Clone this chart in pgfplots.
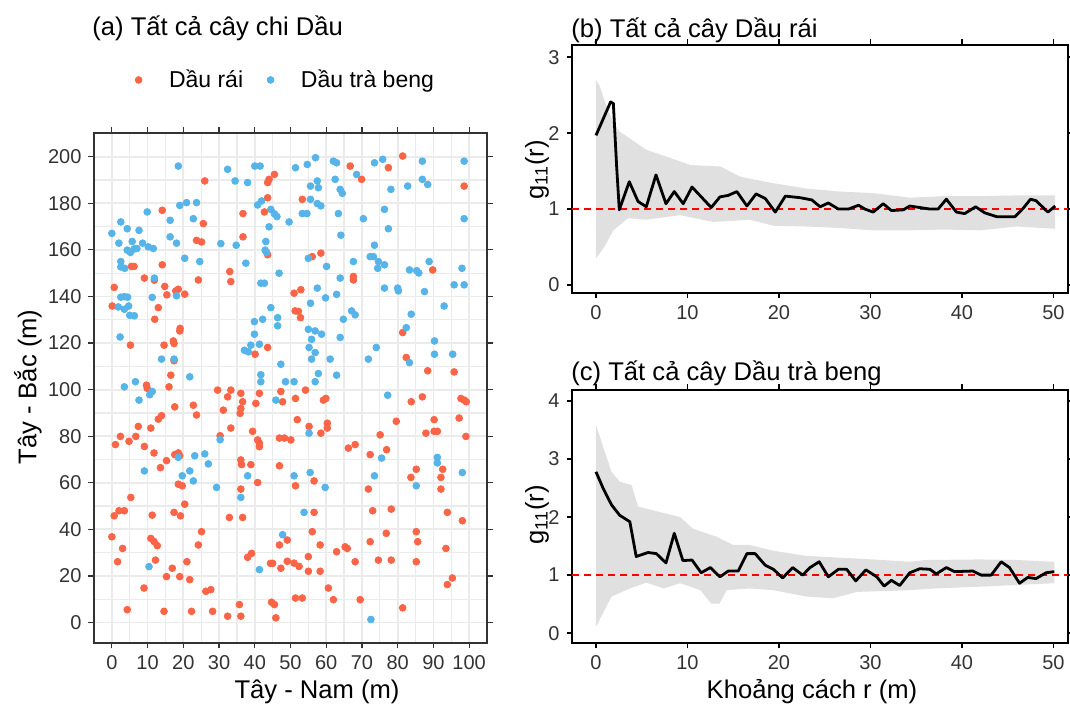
\documentclass[border=0pt]{standalone}
\usepackage{fontspec}
\setmainfont{Liberation Sans}
\usepackage{pgfplots}
\pgfplotsset{compat=1.18}
\definecolor{rai}{HTML}{FA6548}
\definecolor{trabeng}{HTML}{56B4E9}
\definecolor{envgray}{HTML}{E0E0E0}
\definecolor{gridgray}{HTML}{EBEBEB}

\pgfplotsset{
  base/.style={scale only axis, anchor=south west,
    tick align=outside, major tick length=2.75pt,
    tick label style={font=\fontsize{10}{12}\selectfont, text=black!80},
    /pgf/number format/assume math mode=true},
  gline/.style={base, xmin=-2.62, xmax=51.6, xtick={0,10,...,50},
    axis line style={black, line width=0.8pt}, tick style={black, line width=0.8pt},
    clip=true},
}

\begin{document}
\begin{tikzpicture}
\useasboundingbox (0,0) rectangle (535pt,355.5pt);

% (a) scatter
\begin{axis}[base, at={(47pt,34pt)}, width=196.5pt, height=255pt,
  xmin=-5, xmax=105, ymin=-8.8, ymax=210.2,
  xtick={0,10,...,100}, ytick={0,20,...,200},
  minor xtick={5,15,...,95}, minor ytick={10,30,...,190},
  minor tick length=0pt, grid=both,
  major grid style={gridgray, line width=0.9pt},
  minor grid style={gridgray, line width=0.6pt},
  axis line style={black!80, line width=0.6pt}, tick style={black!80, line width=0.6pt},
  legend columns=2,
  legend style={at={(0.49,1.104)}, anchor=center, draw=none, fill=none,
    font=\fontsize{11.5}{13}\selectfont,
    /tikz/every odd column/.append style={column sep=11.5pt},
    /tikz/every even column/.append style={column sep=10pt}},
  legend cell align=left]
\addplot[only marks, mark=*, mark size=1.7pt, color=rai] coordinates {
(45.5,192.4)(44.0,190.3)(43.6,188.9)(26.0,189.6)(43.6,182.4)(14.1,177)(36.7,175.6)(42.7,176.3)(25.6,171.3)(36.7,165.6)(23.7,164.1)(25.1,163.4)(43.6,157.9)(5.5,152.9)(6.2,152.9)(14.1,153.6)(33.0,150.7)(9.1,147.9)(11.9,147.0)(24.2,147.1)(33.3,146.4)(0.65,143.9)(14.8,144.3)(18.6,143.1)(17.9,142.4)(15.4,140.7)(20.4,141.0)
(81.4,200.3)(66.7,196)(77.4,195.3)(69.9,190.3)(98.6,187.4)(53.3,181.7)(56.1,157.1)(58.5,158.6)(89.8,151.4)(67.6,148.6)(67.6,147.1)(51.0,141.4)(52.9,142.9)
(0.1,135.9)(13.0,135.2)(12.0,130.2)(19.1,126.3)(19.0,125.2)(5.2,119.1)(14.6,119.1)(17.2,120.9)(17.4,119.8)(17.4,112.4)(40.1,115.2)(43.6,118.1)(16.5,106.2)(9.7,101.9)(9.9,100.6)(16.0,101.2)(29.6,99.8)(33.3,99.8)(32.4,96.9)(36.1,98.4)(36.6,94.8)(41.3,98.4)(40.3,94.1)(47.3,99.2)(47.8,94.8)(17.6,92.6)(22.8,93.3)(23.7,89.1)(31.2,91.2)(36.1,91.9)(35.9,89.8)(13.9,88.8)(13.0,87.3)(7.4,84.2)(10.9,83.5)(33.3,83.5)(39.4,82.1)(2.4,79.9)(6.7,79.9)(1.0,76.4)(4.8,77.8)(9.1,75.6)(30.3,80.2)(40.8,78.4)(41.3,77.0)(41.3,75.5)(46.9,79.2)(48.3,79.2)(11.8,72.8)(17.6,72.1)(18.6,72.8)(19.0,71.6)(15.3,69.5)(36.1,69.8)(36.3,67.8)(38.9,67.8)
(51.3,133.8)(52.2,133.6)(52.8,130.9)(81.4,124.5)(82.4,113.8)(88.4,108.1)(95.8,107.6)(54.2,99.8)(51.4,96.2)(59.2,95.5)(59.9,96.2)(83.8,94.8)(86.9,96.9)(97.7,96.2)(98.6,95.5)(99.2,94.8)(51.9,87.1)(55.2,84.2)(60.3,85.6)(60.3,83.5)(58.5,81.3)(79.6,86.4)(90.2,87.1)(97.2,87.8)(75.1,80.6)(87.9,81.3)(90.2,82.1)(91.1,82.1)(99.1,79.9)(50.1,78.4)(66.2,74.9)(68.1,76.4)(72.3,72.1)(76.9,74.2)
(13.6,66.5)(46.9,67.3)(40.8,60.1)(18.6,59.4)(19.7,58.7)(36.1,57.3)(5.3,53.7)(20.4,50.8)(0.65,45.8)(2.0,48)(3.5,48)(11.3,46.1)(17.4,47.3)(19.2,45.8)(32.9,45.1)(36.6,45.1)(25.1,39)(0,36.8)(10.9,36.1)(11.8,34.8)(12.7,33)(24.2,33.3)(3.0,31.8)(49.1,35.4)(46.9,33.3)(38.0,28)(39.1,29.7)(1.6,26.1)(12.2,26.8)(21.0,26.1)(16.9,23.3)(15.3,19.7)(19.0,19.7)(21.8,18.4)(44.4,25.4)(45.0,25.4)(49.1,26.3)(47.3,23.3)(9.0,14.8)(26.3,13.4)(27.7,14.1)(4.3,5.5)(14.6,4.8)(22.3,4.8)(28.2,4.8)(35.7,7.7)(32.4,2.7)(36.1,2.7)(44.7,8.7)(45.5,7.7)(45.9,2)
(85.2,65.8)(92.6,65.8)(56.6,60.8)(51.4,58.7)(83.7,62.3)(92.1,62.3)(92.1,57.3)(71.8,57.3)(56.6,47.3)(73.0,48)(78.2,48.7)(93.9,47.3)(98.1,43.7)(56.1,39)(76.8,38.3)(85.2,39)(72.3,34.7)(85.6,34.7)(58.3,33.3)(65.3,32.5)(65.9,31.8)(62.9,30.4)(93.5,31.8)(55.0,28.3)(51.0,25.5)(52.4,24.1)(55.0,22)(58.3,22)(68.1,26.1)(74.6,26.8)(78.2,26.8)(85.2,26.1)(95.3,19.1)(93.9,16.3)(60.6,14.8)(51.4,10.5)(53.3,10.5)(62.0,9.8)(69.5,9.8)(81.4,6.3)
};
\addlegendentry{Dầu rái}
\addplot[only marks, mark=*, mark size=1.7pt, color=trabeng] coordinates {
(18.6,196)(32.4,194.6)(40,196)(41.5,196)(34.5,189.6)(38,188.9)(41.9,181)(40.8,179.3)(20.9,180.3)(23.7,180.3)(19.0,179.1)(9.9,176.3)(44.5,177.4)(45.5,175.5)(46.2,174.3)(49.6,172)(16.3,172.7)(22.8,173.4)(2.5,172)(4.3,169.1)(7.6,168.4)(44.0,169.9)(0,167.1)(16.3,165.6)(1.96,162.9)(5.7,163.6)(8.6,162.9)(18.1,162.9)(30.5,162.7)(34.8,162)(43.1,163.6)(4.3,159.9)(5.2,158.9)(6.2,160.4)(7.0,160.6)(10.2,161.3)(11.6,160.6)(42.9,159.9)(43.3,158.9)(20.4,156.4)(24.6,155)(2.5,155)(2.5,152.7)(3.6,152.1)(37.5,154.3)(46.8,150)(11.9,147.9)(41.7,145.7)(42.7,145.7)(18.1,140.3)(11.3,139.6)(2.5,139.7)(3.5,139.9)(4.4,139.7)
(57.0,199.6)(51.4,195.3)(54.7,196.7)(62.0,198.1)(62.9,197.4)(73.5,197.4)(75.8,198.9)(86.9,198.1)(98.6,198.1)(68.5,192.4)(62.5,190.3)(57.5,189.6)(55.6,187.4)(57.8,186.7)(86.9,190.3)(88.4,188.1)(82.8,187.4)(78.1,186)(63.9,186)(64.5,184.3)(55.6,181.7)(57.5,179.9)(58.5,178.9)(76.3,177.4)(53.3,175.6)(54.6,175.6)(63.4,175.6)(70.4,173.4)(98.6,173.4)(77.4,169.1)(64.1,166.3)(73.5,162)(55.0,156.4)(72.3,157.1)(73.2,157.1)(74.6,155)(67.6,155)(60.1,152.9)(76.3,153.6)(74.4,152.1)(88.8,155)(83.3,151.4)(85.3,151.1)(85.9,150.1)(98.0,152.1)(63.9,147.9)(57.5,143.6)(76.3,143.6)(80.0,143.6)(80.2,142.4)(87.5,142.1)(95.8,145)(98.6,145)(59.8,139.4)(62.9,140.9)(55.6,137.1)
(1.8,135.5)(3.5,134.5)(4.7,135.9)(5.0,131.9)(6.3,131.7)(44.5,135.2)(2.3,122.6)(13.9,113.1)(17.4,113.1)(46.4,130.9)(46.4,127.4)(42.2,130.2)(39.9,129.2)(39.9,123.8)(38.9,119.1)(41.3,119.5)(37.1,116.9)(38.2,116.2)(47.3,110.9)(21.8,105.5)(41.7,106.4)(41.7,103.4)(6.6,103.4)(3.5,101.2)(11.3,99.2)(10.6,97.8)(7.6,95.5)(48.6,103.4)(45.9,95.5)(30.3,78.5)(18.6,70.9)(23.2,71.6)(26.0,72.4)(27.0,68.1)
(93.0,135.9)(64.8,130.2)(67.1,133.8)(68.1,132.1)(83.8,132.4)(82.4,126.6)(55.0,125.9)(56.9,125.2)(58.7,123.8)(55.9,121.6)(63.9,122.4)(55.2,118.1)(56.9,115.9)(55.9,113.1)(61.1,113.1)(74.0,118.1)(71.8,113.1)(83.3,111.6)(90.3,120.9)(90.3,115.2)(95.4,115.2)(57.8,106.9)(62.9,106.2)(51.0,103.4)(56.9,103.4)(77.2,97.6)(55.2,81.3)(75.5,70.6)(91.1,70.9)(91.1,68.5)
(9.1,65.1)(19.7,63)(21.8,65.1)(22.8,60.8)(38.0,63)(29.3,58)(36.1,53.7)(47.8,37.7)(10.4,24)(41.3,22.7)
(51.0,63)(55.5,64.4)(59.7,58)(73.5,63)(85.2,58.7)(98.1,64.4)(53.8,47.3)(72.5,1.3)
};
\addlegendentry{Dầu trà beng}
\end{axis}

% (b) Dau rai
\begin{axis}[gline, at={(286pt,209pt)}, width=248pt, height=124pt,
  ymin=-0.105, ymax=3.16, ytick={0,1,2,3}]
\addplot[fill=envgray, draw=none] coordinates {
(0,2.70)(0.45,2.61)(1.0,2.40)(2.0,2.10)(2.6,2.02)(3.7,1.93)(5.5,1.78)(7.7,1.69)(10.3,1.58)(13.6,1.56)(15.7,1.43)(16.8,1.40)(19.4,1.34)(23.0,1.27)(26.7,1.23)(30.3,1.21)(34.3,1.15)(38,1.17)(42,1.17)(46,1.18)(50.2,1.18)
(50.2,0.74)(46,0.77)(42,0.72)(38,0.73)(34.3,0.72)(30.3,0.72)(26.7,0.75)(23.0,0.77)(19.4,0.78)(16.8,0.86)(12.8,0.83)(9.2,0.92)(5.5,0.86)(3.5,0.88)(1.9,0.72)(0.9,0.50)(0,0.35)
} -- cycle;
\addplot[red, line width=0.9pt, dash pattern=on 3.5pt off 2.5pt] coordinates {(-2.62,1)(51.6,1)};
\addplot[black, line width=1.4pt, line join=round] coordinates {
(0,1.97)(1.6,2.41)(1.9,2.39)(2.26,1.56)(2.55,0.99)(3.64,1.36)(4.6,1.10)(5.5,1.03)(6.56,1.45)(7.65,1.07)(8.56,1.23)(9.54,1.07)(10.5,1.29)(12.6,1.02)(13.55,1.16)(14.46,1.18)(15.4,1.23)(16.5,1.04)(17.5,1.20)(18.5,1.14)(19.6,0.96)(20.7,1.17)(22.3,1.15)(23.6,1.12)(24.5,1.03)(25.4,1.08)(26.5,1.00)(27.6,1.00)(28.7,1.05)(29.4,1.00)(30.3,0.96)(31.4,1.07)(32.3,0.98)(33.6,0.99)(34.3,1.04)(35.4,1.02)(36.5,1.00)(37.4,1.00)(38.3,1.13)(39.4,0.96)(40.3,0.94)(41.5,1.03)(42.5,0.95)(43.8,0.90)(45.8,0.90)(46.7,1.01)(47.5,1.13)(48.1,1.11)(49.4,0.96)(50.2,1.04)
};
\end{axis}

% (c) Dau tra beng
\begin{axis}[gline, at={(286pt,34pt)}, width=248pt, height=126.5pt,
  ymin=-0.17, ymax=4.19, ytick={0,1,2,3,4}]
\addplot[fill=envgray, draw=none] coordinates {
(0,3.59)(0.8,3.2)(1.7,2.78)(2.6,2.61)(3.9,2.55)(4.6,2.18)(9.2,2.0)(10.6,1.8)(13.2,1.66)(15.0,1.52)(16.8,1.52)(19.4,1.42)(23.0,1.33)(26.7,1.30)(30.3,1.27)(34.3,1.23)(36,1.26)(42,1.27)(46,1.26)(50.1,1.23)
(50.1,0.86)(42,0.80)(37,0.77)(34.3,0.74)(28.5,0.71)(25.9,0.60)(23.0,0.63)(19.4,0.74)(16.8,0.77)(14.3,0.74)(13.5,0.51)(12.6,0.51)(11.4,0.74)(9.2,0.86)(7.4,0.77)(5.5,0.87)(3.7,0.77)(1.7,0.63)(0,0.11)
} -- cycle;
\addplot[red, line width=0.9pt, dash pattern=on 3.5pt off 2.5pt] coordinates {(-2.62,1)(51.6,1)};
\addplot[black, line width=1.4pt, line join=round] coordinates {
(0,2.78)(0.8,2.49)(1.7,2.21)(2.6,2.03)(3.7,1.92)(4.4,1.32)(5.7,1.39)(6.6,1.37)(7.65,1.21)(8.56,1.72)(9.5,1.25)(10.5,1.26)(11.5,1.04)(12.5,1.13)(13.55,0.97)(14.46,1.07)(15.55,1.07)(16.5,1.37)(17.4,1.37)(18.5,1.17)(19.4,1.10)(20.4,0.95)(21.5,1.13)(22.6,1.00)(23.4,1.13)(24.4,1.23)(25.4,0.97)(26.5,1.10)(27.4,1.10)(28.4,0.90)(29.5,1.09)(30.7,0.97)(31.5,0.81)(32.3,0.91)(33.2,0.82)(34.3,1.04)(35.4,1.11)(36.5,1.10)(37.2,1.02)(38.3,1.13)(39.2,1.06)(41.2,1.07)(42.1,1.00)(43.2,1.00)(44.3,1.23)(45.2,1.13)(46.3,0.86)(47.2,0.96)(48.1,0.94)(49.2,1.04)(50.1,1.06)
};
\end{axis}

% titles and axis titles
\begin{scope}[every node/.style={font=\fontsize{12.8}{14}\selectfont, inner sep=0pt}]
\node[anchor=west] at (46pt,341.5pt) {(a) Tất cả cây chi Dầu};
\node[anchor=west] at (285.5pt,340.5pt) {(b) Tất cả cây Dầu rái};
\node[anchor=west] at (285.5pt,169pt) {(c) Tất cả cây Dầu trà beng};
\node[rotate=90] at (14pt,162pt) {Tây - Bắc (m)};
\node[rotate=90] at (268.5pt,270.5pt) {g\textsubscript{11}(r)};
\node[rotate=90] at (268.5pt,98pt) {g\textsubscript{11}(r)};
\node at (158.5pt,9.5pt) {Tây - Nam (m)};
\node at (406pt,9.5pt) {Khoảng cách r (m)};
\end{scope}
\end{tikzpicture}
\end{document}
